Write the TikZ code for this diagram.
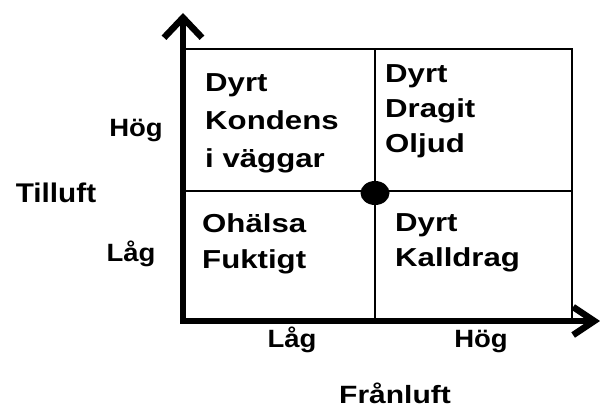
\documentclass[tikz,border=0pt]{standalone}
\usepackage{fontspec}
\setmainfont{Liberation Sans}[FakeStretch=1.2]
\newfontfamily\labelfont{Liberation Sans}[FakeStretch=1.1]
\usetikzlibrary{arrows.meta,shapes.geometric}

\begin{document}
\begin{tikzpicture}[x=1pt,y=-1pt,
  axis/.style={line width=6.5pt, line join=miter},
  grid/.style={line width=1.5pt},
  cell/.style={anchor=north west, align=left, inner sep=0pt,
    font=\bfseries\fontsize{26}{36}\selectfont},
  tick/.style={anchor=base, inner sep=0pt, font=\labelfont\bfseries\fontsize{25}{30}\selectfont},
  title/.style={anchor=base, inner sep=0pt, font=\bfseries\fontsize{25}{30}\selectfont}]
\useasboundingbox (0,0) rectangle (600,409);

% corners of the four-field chart
\coordinate (tl) at (183,49);
\coordinate (tm) at (375,49);
\coordinate (tr) at (572,49);
\coordinate (ml) at (183,191);
\coordinate (mr) at (572,191);
\coordinate (bm) at (375,321);
\coordinate (br) at (572,321);

% field borders
\draw[grid] (tl) -- (tr) -- (br);
\draw[grid] (tm) -- (bm);
\draw[grid] (ml) -- (mr);

% axes
\coordinate (O) at (183,321);
\coordinate (ytip) at (183,13);
\coordinate (xtip) at (600,321);
\draw[axis, {Straight Barb[length=20pt,width=38pt]}-{Straight Barb[length=21pt,width=28pt]}]
  (ytip) -- (O) -- (xtip);

% centre point
\node[ellipse, fill, minimum width=29pt, minimum height=24pt, inner sep=0pt] (mid) at (375,193) {};

% field texts
\node[cell, font=\bfseries\fontsize{26}{38}\selectfont] (q1) at (205,73.5) {Dyrt\\Kondens\\i väggar};
\node[cell, font=\bfseries\fontsize{26}{35}\selectfont] (q2) at (385,64.5) {Dyrt\\Dragit\\Oljud};
\node[cell] (q3) at (202,213.5) {Ohälsa\\Fuktigt};
\node[cell, font=\bfseries\fontsize{26}{35}\selectfont] (q4) at (395,213.5) {Dyrt\\Kalldrag};

% axis labels
\node[tick] (yhi) at (136,137) {Hög};
\node[tick] (ylo) at (131,261) {Låg};
\node[tick, font=\labelfont\bfseries\fontsize{27}{30}\selectfont] (ylab) at (56,203) {Tilluft};
\node[tick] (xlo) at (292,347) {Låg};
\node[tick] (xhi) at (481,347) {Hög};
\node[title] (xlab) at (395,403) {Frånluft};
\end{tikzpicture}
\end{document}
